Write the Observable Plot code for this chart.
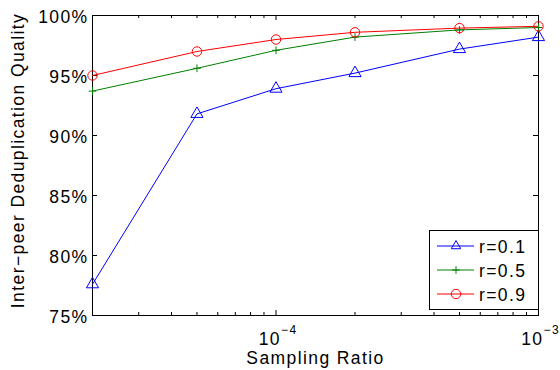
<!DOCTYPE html>
<html><head><meta charset="utf-8">
<script src="https://cdn.jsdelivr.net/npm/d3@7"></script>
<script src="https://cdn.jsdelivr.net/npm/@observablehq/plot@0.6"></script>
<style>
body{margin:0;background:#fff;}
#chart svg text{font-family:"Liberation Sans",Arial,sans-serif;letter-spacing:1.4px;}
</style></head><body><div id="chart"></div>
<script>
const ratios = [2e-5, 5e-5, 1e-4, 2e-4, 5e-4, 1e-3];
const seriesNames = ["r=0.1", "r=0.5", "r=0.9"];
const r01 = [77.6, 91.8, 93.9, 95.2, 97.2, 98.2];
const r05 = [93.7, 95.6, 97.1, 98.2, 98.8, 99.0];
const r09 = [95.0, 97.0, 98.0, 98.6, 98.95, 99.1];
const yTicks = [75, 80, 85, 90, 95, 100];
const xMajor = [1e-4, 1e-3];
const xMajorBase = ["10", "10"];
const xMajorExp = ["−4", "−3"];
const xMinor = [3e-5,4e-5,5e-5,6e-5,7e-5,8e-5,9e-5,2e-4,3e-4,4e-4,5e-4,6e-4,7e-4,8e-4,9e-4];
const colors = ["#0000ff", "#008000", "#ff0000"];
const symbols = ["triangle", "plus", "circle"];
const symbolR = [4.5, 2.6, 4.7];

const allValues = [r01, r05, r09];
const data = [];
allValues.forEach((vals, s) => vals.forEach((v, i) => data.push({series: seriesNames[s], x: ratios[i], y: v})));

const W = 560, H = 370, mL = 92, mR = 22, mT = 15, mB = 55;
const pw = W - mL - mR, ph = H - mT - mB;

const marks = [
  Plot.frame({stroke: "black", strokeWidth: 1}),
  Plot.tickY(yTicks, {y: d => d, insetRight: pw - 5, stroke: "black"}),
  Plot.tickY(yTicks, {y: d => d, insetLeft: pw - 5, stroke: "black"}),
  Plot.tickX(xMajor, {x: d => d, insetTop: ph - 5, stroke: "black"}),
  Plot.tickX(xMajor, {x: d => d, insetBottom: ph - 5, stroke: "black"}),
  Plot.tickX(xMinor, {x: d => d, insetTop: ph - 3, stroke: "black"}),
  Plot.tickX(xMinor, {x: d => d, insetBottom: ph - 3, stroke: "black"}),
  Plot.axisY(yTicks, {tickSize: 0, tickPadding: 4, tickFormat: d => d + "%", dy: 2, label: null}),
  Plot.text(xMajor, {x: d => d, text: (d, i) => xMajorBase[i], frameAnchor: "bottom", textAnchor: "end", lineAnchor: "top", dx: 5, dy: 17}),
  Plot.text(xMajor, {x: d => d, text: (d, i) => xMajorExp[i], frameAnchor: "bottom", textAnchor: "start", lineAnchor: "top", dx: 5, dy: 10, fontSize: 12}),
  Plot.text(["Sampling Ratio"], {frameAnchor: "bottom", textAnchor: "middle", lineAnchor: "middle", dy: 43}),
  Plot.text(["Inter−peer Deduplication Quality"], {frameAnchor: "left", textAnchor: "middle", rotate: -90, lineAnchor: "middle", dx: -74, dy: -5}),
  Plot.line(data, {x: "x", y: "y", z: "series", stroke: "series", strokeWidth: 1})
];
seriesNames.forEach((name, s) => {
  marks.push(Plot.dot(data.filter(d => d.series === name), {x: "x", y: "y", symbol: () => symbols[s], r: symbolR[s], stroke: colors[s], fill: "none", strokeWidth: 1}));
});

const chart = Plot.plot({
  width: W, height: H,
  marginLeft: mL, marginRight: mR, marginTop: mT, marginBottom: mB,
  style: {fontFamily: "Liberation Sans, Arial, sans-serif", fontSize: "17.5px", background: "white", color: "black"},
  x: {type: "log", domain: [2e-5, 1e-3], axis: null},
  y: {domain: [75, 100], label: null},
  color: {domain: seriesNames, range: colors},
  symbol: {domain: symbols, range: symbols},
  marks
});
document.getElementById("chart").appendChild(chart);

// legend
const svg = d3.select(chart);
const lg = svg.append("g");
const lx = 429, ly = 230, lw = 109, lh = 79;
lg.append("rect").attr("x", lx + 0.5).attr("y", ly + 0.5).attr("width", lw).attr("height", lh)
  .attr("fill", "white").attr("stroke", "black");
seriesNames.forEach((name, i) => {
  const cy = ly + 16 + 24 * i;
  lg.append("line").attr("x1", 437).attr("x2", 474).attr("y1", cy).attr("y2", cy)
    .attr("stroke", colors[i]).attr("stroke-width", 1);
  if (symbols[i] === "circle") {
    lg.append("circle").attr("cx", 456).attr("cy", cy).attr("r", symbolR[i])
      .attr("fill", "none").attr("stroke", colors[i]);
  } else {
    const sym = {triangle: d3.symbolTriangle2, plus: d3.symbolPlus}[symbols[i]];
    lg.append("path").attr("d", d3.symbol(sym, Math.PI * symbolR[i] * symbolR[i])())
      .attr("transform", `translate(456,${cy})`).attr("fill", "none").attr("stroke", colors[i]);
  }
  lg.append("text").attr("x", 479).attr("y", cy + 6.5).attr("font-size", 17.5)
    .attr("text-anchor", "start").attr("fill", "black").text(name);
});
</script></body></html>
